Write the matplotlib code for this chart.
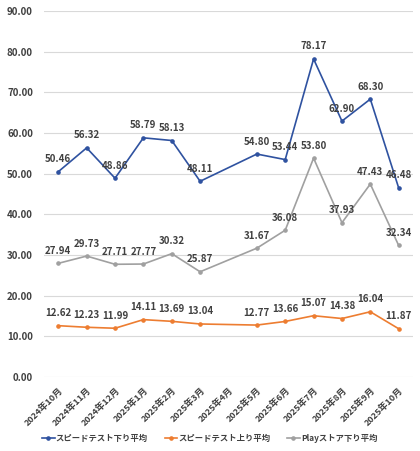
import numpy as np
import matplotlib
matplotlib.use("Agg")
from matplotlib import pyplot as plt

plt.rcParams['font.family'] = ['Noto Sans CJK JP', 'DejaVu Sans']

# データ（2025年4月は欠測）
months = ["2024年10月", "2024年11月", "2024年12月", "2025年1月", "2025年2月",
          "2025年3月", "2025年4月", "2025年5月", "2025年6月", "2025年7月",
          "2025年8月", "2025年9月", "2025年10月"]
speed_down = [50.46, 56.32, 48.86, 58.79, 58.13, 48.11, None, 54.80, 53.44, 78.17, 62.90, 68.30, 46.48]
speed_up = [12.62, 12.23, 11.99, 14.11, 13.69, 13.04, None, 12.77, 13.66, 15.07, 14.38, 16.04, 11.87]
play_down = [27.94, 29.73, 27.71, 27.77, 30.32, 25.87, None, 31.67, 36.08, 53.80, 37.93, 47.43, 32.34]
series_names = ["スピードテスト下り平均", "スピードテスト上り平均", "Playストア下り平均"]
colors = ["#2F52A0", "#ED7D31", "#A0A0A0"]

fig = plt.figure(figsize=(4.2, 4.51), dpi=100)
ax = fig.add_axes([0.105, 0.164, 0.878, 0.812])

for vals, name, c in zip([speed_down, speed_up, play_down], series_names, colors):
    xs = [i for i, v in enumerate(vals) if v is not None]
    ys = [v for v in vals if v is not None]
    ax.plot(xs, ys, color=c, lw=1.2, marker='o', ms=2.3, label=name)
    for x, y in zip(xs, ys):
        ax.annotate(f"{y:.2f}", (x, y), xytext=(0, 9), textcoords='offset points',
                    ha='center', va='center', fontsize=7, color='#404040',
                    fontweight='bold')

ax.set_ylim(0, 90)
ax.set_xlim(-0.5, len(months) - 0.5)
ax.set_yticks(np.arange(0, 91, 10))
ax.set_yticklabels([f"{v:.2f}" for v in np.arange(0, 91, 10)], fontsize=7,
                   color='#404040', fontweight='bold')
ax.set_xticks(range(len(months)))
ax.set_xticklabels(months, rotation=45, ha='right', rotation_mode='anchor',
                   fontsize=6.5, color='#404040', fontweight='bold')
ax.tick_params(axis='y', length=0, pad=8)
ax.tick_params(axis='x', length=0, pad=6)
ax.grid(axis='y', color='#D9D9D9', lw=0.8)
ax.set_axisbelow(True)
for s in ax.spines.values():
    s.set_visible(False)

leg = fig.legend(loc='center left', bbox_to_anchor=(0.1, 0.027), ncol=3, frameon=False,
                 fontsize=6, handlelength=1.5, columnspacing=2.0, handletextpad=0.15,
                 borderaxespad=0, borderpad=0)
for t in leg.get_texts():
    t.set_color('#404040')
    t.set_fontweight('bold')

fig.savefig("out.png", dpi=100)
